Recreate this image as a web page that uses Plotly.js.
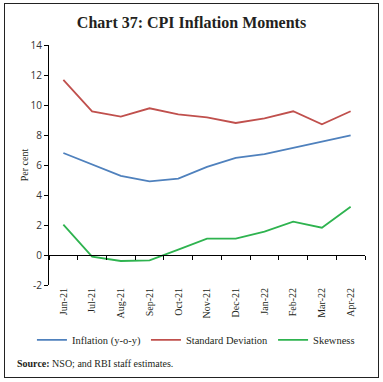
<!DOCTYPE html>
<html>
<head>
<meta charset="utf-8">
<script src="https://cdn.plot.ly/plotly-3.0.1.min.js"></script>
<style>
html,body{margin:0;padding:0;background:#fff;}
#chart{position:absolute;left:0;top:0;width:383px;height:382px;}
#frame{position:absolute;left:4px;top:3px;width:375px;height:375px;border:1.5px solid #222;box-sizing:border-box;pointer-events:none;}
</style>
</head>
<body>
<div id="chart"></div>
<div id="frame"></div>
<script>
var months = ["Jun-21","Jul-21","Aug-21","Sep-21","Oct-21","Nov-21","Dec-21","Jan-22","Feb-22","Mar-22","Apr-22"];
var inflation = [6.8, 6.02, 5.27, 4.91, 5.09, 5.87, 6.47, 6.73, 7.15, 7.55, 7.98];
var stdDev = [11.67, 9.58, 9.22, 9.78, 9.38, 9.18, 8.8, 9.11, 9.58, 8.71, 9.58];
var skewness = [2.02, -0.11, -0.4, -0.36, 0.36, 1.09, 1.09, 1.56, 2.22, 1.82, 3.22];
var yTicks = [-2, 0, 2, 4, 6, 8, 10, 12, 14];

var serif = "Liberation Serif, Times New Roman, serif";
var sans = "Open Sans, Liberation Sans, sans-serif";

var traces = [
  {x: months, y: inflation, name: "Inflation (y-o-y)", type: "scatter", mode: "lines",
   line: {color: "#4f81bd", width: 1.8}},
  {x: months, y: stdDev, name: "Standard Deviation", type: "scatter", mode: "lines",
   line: {color: "#c0504d", width: 1.8}},
  {x: months, y: skewness, name: "Skewness", type: "scatter", mode: "lines",
   line: {color: "#2eb34f", width: 1.8}},
  {x: months, y: months.map(function(){return null;}), xaxis: "x2", showlegend: false,
   hoverinfo: "skip", mode: "lines", type: "scatter"}
];

var layout = {
  width: 383, height: 382,
  margin: {l: 49, r: 18, t: 45, b: 97},
  paper_bgcolor: "#fff", plot_bgcolor: "#fff",
  showlegend: true,
  title: {text: "<b>Chart 37: CPI Inflation Moments</b>", font: {family: serif, size: 16, color: "#231f20"},
          xref: "container", x: 0.5, xanchor: "center", yref: "container", y: 0.942, yanchor: "middle"},
  xaxis: {type: "category", range: [-0.5, 10.5], showline: false, ticks: "", showgrid: false, zeroline: false,
          tickangle: -90, tickfont: {family: serif, size: 10, color: "#231f20"}, fixedrange: true},
  xaxis2: {type: "category", overlaying: "x", anchor: "free", position: 0.125, range: [-0.5, 10.5],
           showline: true, linecolor: "#000", linewidth: 1, ticks: "outside", ticklen: 4, tickcolor: "#000",
           tickson: "boundaries", showticklabels: false, showgrid: false, zeroline: false, side: "bottom"},
  yaxis: {range: [-2, 14], tickvals: yTicks, ticktext: yTicks.map(String), showline: true, linecolor: "#000", linewidth: 1,
          ticks: "outside", ticklen: 4, tickcolor: "#000", showgrid: false, zeroline: false,
          tickfont: {family: sans, size: 10, color: "#333"},
          title: {text: "Per cent", font: {family: serif, size: 10, color: "#231f20"}, standoff: 0}},
  legend: {orientation: "h", x: -0.054, xanchor: "left", y: -0.229, yanchor: "middle",
           font: {family: serif, size: 10.5, color: "#231f20"}, tracegroupgap: 0},
  annotations: [
    {xref: "paper", yref: "paper", x: -0.108, y: -0.329, xanchor: "left", yanchor: "middle", showarrow: false,
     text: "<b>Source:</b> NSO; and RBI staff estimates.", font: {family: serif, size: 10, color: "#231f20"}}
  ]
};

Plotly.newPlot("chart", traces, layout, {displayModeBar: false, staticPlot: true});
</script>
</body>
</html>
